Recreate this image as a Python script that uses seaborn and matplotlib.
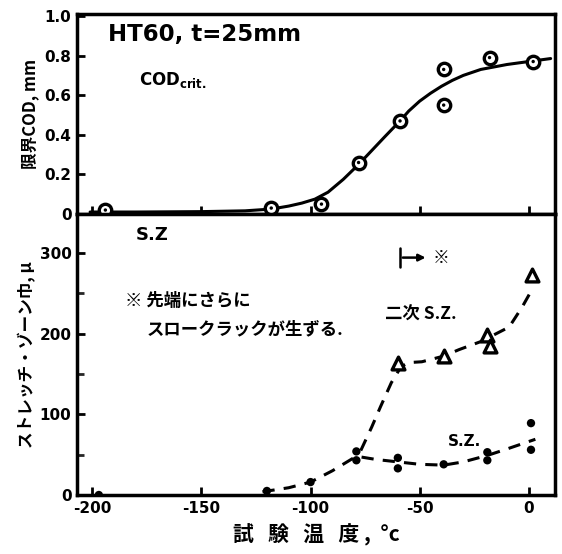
import numpy as np
import pandas as pd
import matplotlib
matplotlib.use("Agg")
import matplotlib.pyplot as plt
import seaborn as sns

# --- data ---
# upper panel: critical COD (mm) vs test temperature (deg C)
cod_temp = [-194, -118, -95, -78, -59, -39, -39, -18, 2]
cod_val = [0.02, 0.03, 0.05, 0.26, 0.47, 0.73, 0.55, 0.79, 0.77]
cod_curve_temp = [-201, -180, -150, -130, -118, -110, -104, -98, -92, -85, -78,
                  -72, -66, -59, -55, -50, -45, -40, -35, -30, -22, -10, 0, 10]
cod_curve_val = [0.01, 0.01, 0.012, 0.016, 0.025, 0.04, 0.055, 0.075, 0.11, 0.175,
                 0.25, 0.32, 0.39, 0.47, 0.52, 0.57, 0.61, 0.645, 0.675, 0.70,
                 0.73, 0.755, 0.77, 0.785]

# lower panel: stretch zone width (micron)
sz_temp = [-197, -120, -100, -79, -79, -60, -60, -39, -19, -19, 1, 1]
sz_val = [0, 5, 16, 54, 43, 46, 33, 38, 53, 43, 89, 56]
sz_curve_temp = [-122, -110, -100, -90, -79, -70, -60, -50, -39, -30, -19, -10, 3]
sz_curve_val = [4, 9, 16, 30, 48, 44, 41, 38, 37, 41, 49, 57, 69]

sz2_temp = [-60, -39, -19, -18, 1.5]
sz2_val = [164, 172, 198, 184, 273]
sz2_curve_temp = [-77, -72, -68, -63, -58.5, -55, -49, -39, -32, -22, -9, -3, 2]
sz2_curve_val = [55, 84, 109, 139, 159, 164, 165, 172, 180, 190, 208, 233, 257]

x_ticks = [-200, -150, -100, -50, 0]
cod_ticks = [0, 0.2, 0.4, 0.6, 0.8, 1.0]
cod_ticklabels = ["0", "0.2", "0.4", "0.6", "0.8", "1.0"]
sz_ticks = [0, 100, 200, 300]

sns.set_style("ticks")
plt.rcParams['font.family'] = ['DejaVu Sans', 'Noto Sans CJK JP']
plt.rcParams['font.weight'] = 'bold'
plt.rcParams['text.color'] = 'black'
plt.rcParams['axes.labelcolor'] = 'black'
jp = ['Noto Sans CJK JP', 'DejaVu Sans']

fig = plt.figure(figsize=(5.62, 5.54), dpi=100)
ax1 = fig.add_axes([77 / 562, 1 - 214 / 554, 478 / 562, 200 / 554])
ax2 = fig.add_axes([77 / 562, 1 - 495 / 554, 478 / 562, 281 / 554])

# upper panel
sns.lineplot(x=cod_curve_temp, y=cod_curve_val, sort=False, color='black',
             lw=2.2, ax=ax1)
sns.scatterplot(x=cod_temp, y=cod_val, marker='o', s=80, facecolor='white',
                edgecolor='black', linewidth=2.4, zorder=3, ax=ax1)
sns.scatterplot(x=cod_temp, y=cod_val, marker='o', s=6, color='black',
                edgecolor='none', zorder=4, ax=ax1)
ax1.set_xlim(-207, 12)
ax1.set_ylim(0, 1.01)
ax1.set_xticks(x_ticks)
ax1.set_xticklabels([])
ax1.set_yticks(cod_ticks)
ax1.set_yticklabels(cod_ticklabels)
ax1.set_ylabel("限界COD, mm", family=jp, fontsize=12, fontweight='bold', labelpad=4)
ax1.text(0.065, 0.9, "HT60, t=25mm", transform=ax1.transAxes, fontsize=16.5,
         fontweight='bold', va='center')
ax1.text(0.13, 0.67, r"COD$_{\mathregular{crit.}}$", transform=ax1.transAxes,
         fontsize=12, fontweight='bold', va='center')

# lower panel
sns.lineplot(x=sz_curve_temp, y=sz_curve_val, sort=False, color='black',
             lw=2.2, ax=ax2)
ax2.lines[-1].set_linestyle((0, (4, 3)))
sns.lineplot(x=sz2_curve_temp, y=sz2_curve_val, sort=False, color='black',
             lw=2.2, ax=ax2)
ax2.lines[-1].set_linestyle((0, (4, 3)))
sns.scatterplot(x=sz_temp, y=sz_val, marker='o', s=36, color='black',
                edgecolor='none', zorder=3, ax=ax2)
sns.scatterplot(x=sz2_temp, y=sz2_val, marker='^', s=85, facecolor='white',
                edgecolor='black', linewidth=2.4, zorder=3, ax=ax2)
ax2.set_xlim(-207, 12)
ax2.set_ylim(0, 348)
ax2.set_xticks(x_ticks)
ax2.set_xticklabels([str(t) for t in x_ticks])
ax2.set_yticks(sz_ticks)
ax2.set_yticks([50, 150, 250], minor=True)
ax2.set_ylabel("ストレッチ・ゾーン巾, μ", family=jp, fontsize=12,
               fontweight='bold', labelpad=2)
ax2.set_xlabel("試   験   温   度 ,  °c", family=jp, fontsize=15, fontweight='bold',
               labelpad=6)

ax2.text(-180, 322, "S.Z", fontsize=13, fontweight='bold', va='center')
ax2.text(-185, 240, "※ 先端にさらに", family=jp, fontsize=12.5, va='center')
ax2.text(-175, 205, "スロークラックが生ずる.", family=jp, fontsize=12.5, va='center')
ax2.text(-44, 294, "※", family=jp, fontsize=12, va='center')
ax2.annotate("", xy=(-46, 294), xytext=(-59, 294),
             arrowprops=dict(arrowstyle='-|>', color='black', lw=1.8))
ax2.plot([-59, -59], [282, 306], color='black', lw=1.8)
ax2.text(-66, 223, "二次 S.Z.", family=jp, fontsize=12.5, fontweight='bold', va='center')
ax2.text(-37, 66, "S.Z.", fontsize=11, fontweight='bold', va='center')

for ax in (ax1, ax2):
    for sp in ax.spines.values():
        sp.set_linewidth(2.5)
        sp.set_color('black')
    ax.tick_params(direction='in', length=6, width=2, labelsize=11,
                   colors='black', pad=4)
    ax.tick_params(which='minor', direction='in', length=5, width=2)
    for lab in ax.get_xticklabels() + ax.get_yticklabels():
        lab.set_fontweight('bold')

fig.savefig("out.png", dpi=100)
